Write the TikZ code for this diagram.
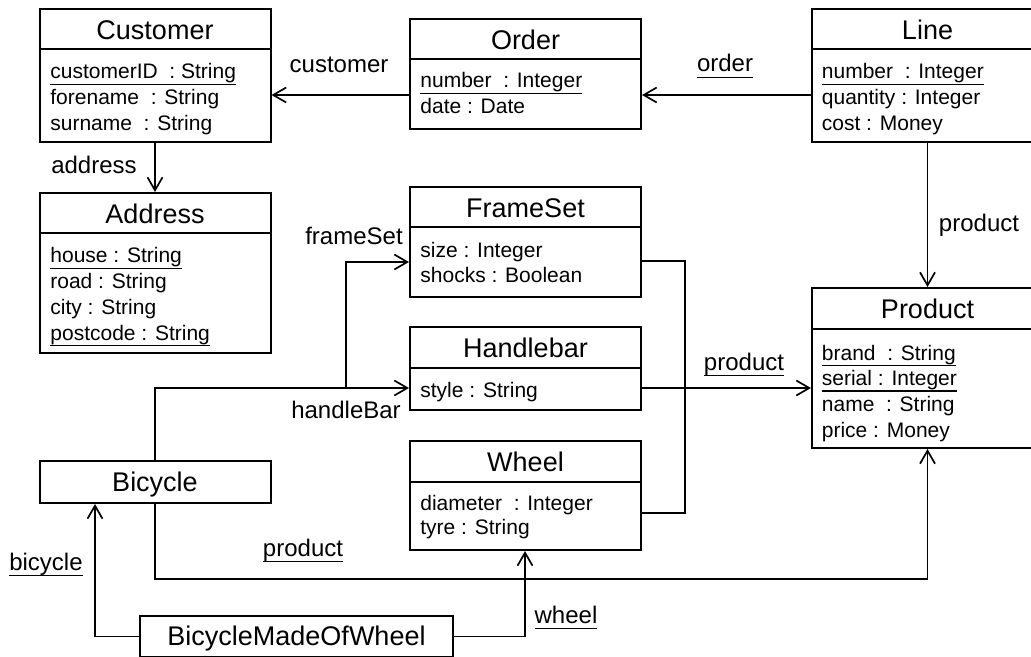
\documentclass[tikz,border=0pt]{standalone}
\usepackage{fontspec}
\setmainfont{Liberation Sans}
\usetikzlibrary{arrows.meta,calc}
% underlined keys and role names
\newsavebox{\ulbox}
\newcommand{\uln}[1]{\sbox{\ulbox}{#1}\rlap{\rule[-3.1pt]{\wd\ulbox}{0.75pt}}\usebox{\ulbox}}
\tikzset{%
	umlclass/.style  = {draw, rectangle, line width=1pt, anchor=north west, inner sep=0pt, minimum width=115.5pt},
	classname/.style = {anchor=base, inner sep=0pt, font=\fontsize{13.5}{16}\selectfont},
	attr/.style      = {anchor=base west, inner sep=0pt, font=\fontsize{10.5}{12.5}\selectfont},
	role/.style      = {anchor=base, inner sep=0pt, font=\fontsize{12}{14}\selectfont},
	link/.style      = {line width=0.85pt},
	assoc/.style     = {link, -{Straight Barb[length=6.5pt,width=7.5pt]}},
}
\begin{document}
\begin{tikzpicture}[x=0.5pt, y=-0.5pt]
	\useasboundingbox (0,0) rectangle (1031,657);

	% class boxes
	\node[umlclass, minimum height=66.5pt] (customer) at (38.5,8) {};
	\node[umlclass, minimum height=80pt] (address) at (38.5,192) {};
	\node[umlclass, minimum height=55pt] (order) at (409,18) {};
	\node[umlclass, minimum height=66.5pt] (line) at (811,8) {};
	\node[umlclass, minimum height=55pt] (frameset) at (409,186) {};
	\node[umlclass, minimum height=41.5pt] (handlebar) at (409,326) {};
	\node[umlclass, minimum height=54.5pt] (wheel) at (409,440) {};
	\node[umlclass, minimum height=80pt] (product) at (811,287) {};
	\node[umlclass, minimum height=21pt] (bicycle) at (38.5,460) {};
	\node[umlclass, minimum height=20.5pt, minimum width=156.5pt] (madeof) at (139,615) {};

	% name compartments
	\foreach \c in {customer,address,order,line,frameset,handlebar,wheel,product}
		\draw[line width=1pt] ($(\c.north west)+(0,41.5)$) -- ($(\c.north east)+(0,41.5)$);
	\foreach \c/\t in {customer/Customer, address/Address, order/Order, line/Line,
		frameset/FrameSet, handlebar/Handlebar, wheel/Wheel, product/Product, bicycle/Bicycle}
		\node[classname] at ($(\c.north)+(0,31.5)$) {\t};
	\node[classname] at ($(madeof.north)+(0,30)$) {BicycleMadeOfWheel};

	% attributes
	\foreach \a [count=\i from 0] in {\uln{customerID\ \ : String}, forename\ \ : String, surname\ \ : String}
		\node[attr] at ($(customer.north west)+(11.5,{71+25.7*\i})$) {\a};
	\foreach \a [count=\i from 0] in {\uln{house : String}, road : String, city : String, \uln{postcode : String}}
		\node[attr] at ($(address.north west)+(11.5,{71+25.7*\i})$) {\a};
	\foreach \a [count=\i from 0] in {\uln{number\ \ : Integer}, date : Date}
		\node[attr] at ($(order.north west)+(11,{70+25.7*\i})$) {\a};
	\foreach \a [count=\i from 0] in {\uln{number\ \ : Integer}, quantity : Integer, cost : Money}
		\node[attr] at ($(line.north west)+(10.5,{71+25.7*\i})$) {\a};
	\foreach \a [count=\i from 0] in {size : Integer, shocks : Boolean}
		\node[attr] at ($(frameset.north west)+(11,{71+25.2*\i})$) {\a};
	\node[attr] at ($(handlebar.north west)+(11,71)$) {style : String};
	\foreach \a [count=\i from 0] in {diameter\ \ : Integer, tyre : String}
		\node[attr] at ($(wheel.north west)+(11,{70+24.7*\i})$) {\a};
	\foreach \a [count=\i from 0] in {\uln{brand\ \ : String}, \uln{serial : Integer}, name\ \ : String, price : Money}
		\node[attr] at ($(product.north west)+(10.5,{73+25.7*\i})$) {\a};

	% associations
	\coordinate (fork) at (346,388);
	\coordinate (bend) at (685,261);
	\draw[assoc] (order.west |- 0,95) -- (customer.east |- 0,95);
	\draw[assoc] (line.west |- 0,95) -- (order.east |- 0,95);
	\draw[assoc] (customer.south) -- (address.north);
	\draw[assoc] (line.south) -- (product.north);
	\draw[assoc] (bicycle.north) |- (handlebar.west |- fork);
	\draw[assoc] (fork) |- (frameset.west |- 0,262);
	\draw[link] (frameset.east |- bend) -- (bend) |- (wheel.east |- 0,513);
	\draw[assoc] (handlebar.east |- fork) -- (product.west |- fork);
	\draw[assoc] (bicycle.south) |- (product.south |- 0,579) -- (product.south);
	\draw[assoc] (madeof.west) -| (bicycle.south -| 95,0);
	\draw[assoc] (madeof.east) -| (wheel.south -| 525,0);

	% role names
	\node[role] (customerlbl) at (339,73) {customer};
	\node[role] (orderlbl) at (725,72) {\uln{order}};
	\node[role] (addresslbl) at (94,174) {address};
	\node[role] (productlbl) at (979,232) {product};
	\node[role] (framesetlbl) at (354,245) {frameSet};
	\node[role] (handlebarlbl) at (346,418) {handleBar};
	\node[role] (partlbl) at (744,370) {\uln{product}};
	\node[role] (bikelbl) at (303,556) {\uln{product}};
	\node[role] (bicyclelbl) at (46,570) {\uln{bicycle}};
	\node[role] (wheellbl) at (566,623) {\uln{wheel}};
\end{tikzpicture}
\end{document}
